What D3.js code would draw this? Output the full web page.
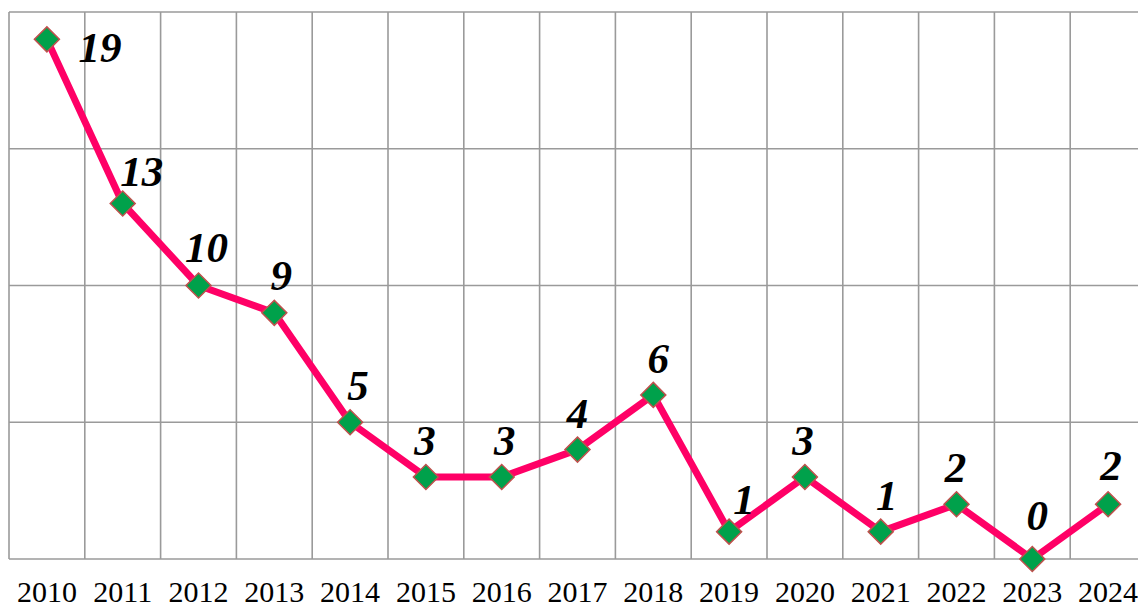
<!DOCTYPE html>
<html>
<head>
  <meta charset="utf-8">
  <title>Line chart 2010-2024</title>
  <script src="https://d3js.org/d3.v7.min.js"></script>
  <style>
    body { margin: 0; background: #fff; }
    svg { display: block; }
    .grid line { stroke: #9a9a9a; stroke-width: 1.6px; }
    .year { font-family: "Liberation Serif", "Times New Roman", serif; font-size: 30px; fill: #000; }
    .lbl { font-family: "Liberation Serif", "Times New Roman", serif; font-size: 43px; font-weight: bold; font-style: italic; fill: #000; }
  </style>
</head>
<body>
<div id="chart"></div>
<script>
const years = ["2010","2011","2012","2013","2014","2015","2016","2017","2018","2019","2020","2021","2022","2023","2024"];
const values = [19, 13, 10, 9, 5, 3, 3, 4, 6, 1, 3, 1, 2, 0, 2];
const yTicks = [0, 5, 10, 15, 20];

// manual nudges of the value labels (dx, dy from the point)
const labelNudge = [[53, 23], [19, -17], [8, -24], [7, -23], [8, -22], [-1, -22], [3, -22],
  [0, -22], [5, -22], [15, -18], [-2, -22], [6, -22], [-1, -22], [5, -29], [3, -24]];

const width = 1138, height = 610;
const svg = d3.select("#chart").append("svg")
  .attr("width", width)
  .attr("height", height);

const x = d3.scaleBand().domain(years).range([9, 9 + 75.8 * years.length]);
const y = d3.scaleLinear().domain([0, 20]).range([559, 12]);

const grid = svg.append("g").attr("class", "grid");
// vertical lines at band edges
grid.selectAll("line.v")
  .data(years)
  .enter().append("line")
    .attr("class", "v")
    .attr("x1", d => x(d)).attr("x2", d => x(d))
    .attr("y1", y(20)).attr("y2", y(0));
grid.selectAll("line.h")
  .data(yTicks)
  .enter().append("line")
    .attr("class", "h")
    .attr("x1", x.range()[0]).attr("x2", x.range()[1])
    .attr("y1", d => y(d)).attr("y2", d => y(d));

const cx = (d, i) => x(years[i]) + x.bandwidth() / 2;

const line = d3.line()
  .x((d, i) => cx(d, i))
  .y(d => y(d));

svg.append("path")
  .datum(values)
  .attr("d", line)
  .attr("fill", "none")
  .attr("stroke", "#ff0066")
  .attr("stroke-width", 7)
  .attr("stroke-linejoin", "round");

const diamond = d3.symbol().type(d3.symbolSquare).size(2 * 12.5 * 12.5);
svg.selectAll("path.mk")
  .data(values)
  .enter().append("path")
    .attr("class", "mk")
    .attr("d", diamond)
    .attr("transform", (d, i) => `translate(${cx(d, i)},${y(d)}) rotate(45)`)
    .attr("fill", "#00a14b")
    .attr("stroke", "#c0504d")
    .attr("stroke-width", 1.5);

svg.selectAll("text.lbl")
  .data(values)
  .enter().append("text")
    .attr("class", "lbl")
    .attr("text-anchor", "middle")
    .attr("x", (d, i) => cx(d, i) + labelNudge[i][0])
    .attr("y", (d, i) => y(d) + labelNudge[i][1])
    .text(d => d);

svg.selectAll("text.year")
  .data(years)
  .enter().append("text")
    .attr("class", "year")
    .attr("text-anchor", "middle")
    .attr("x", d => x(d) + x.bandwidth() / 2)
    .attr("y", 602)
    .text(d => d);
</script>
</body>
</html>
